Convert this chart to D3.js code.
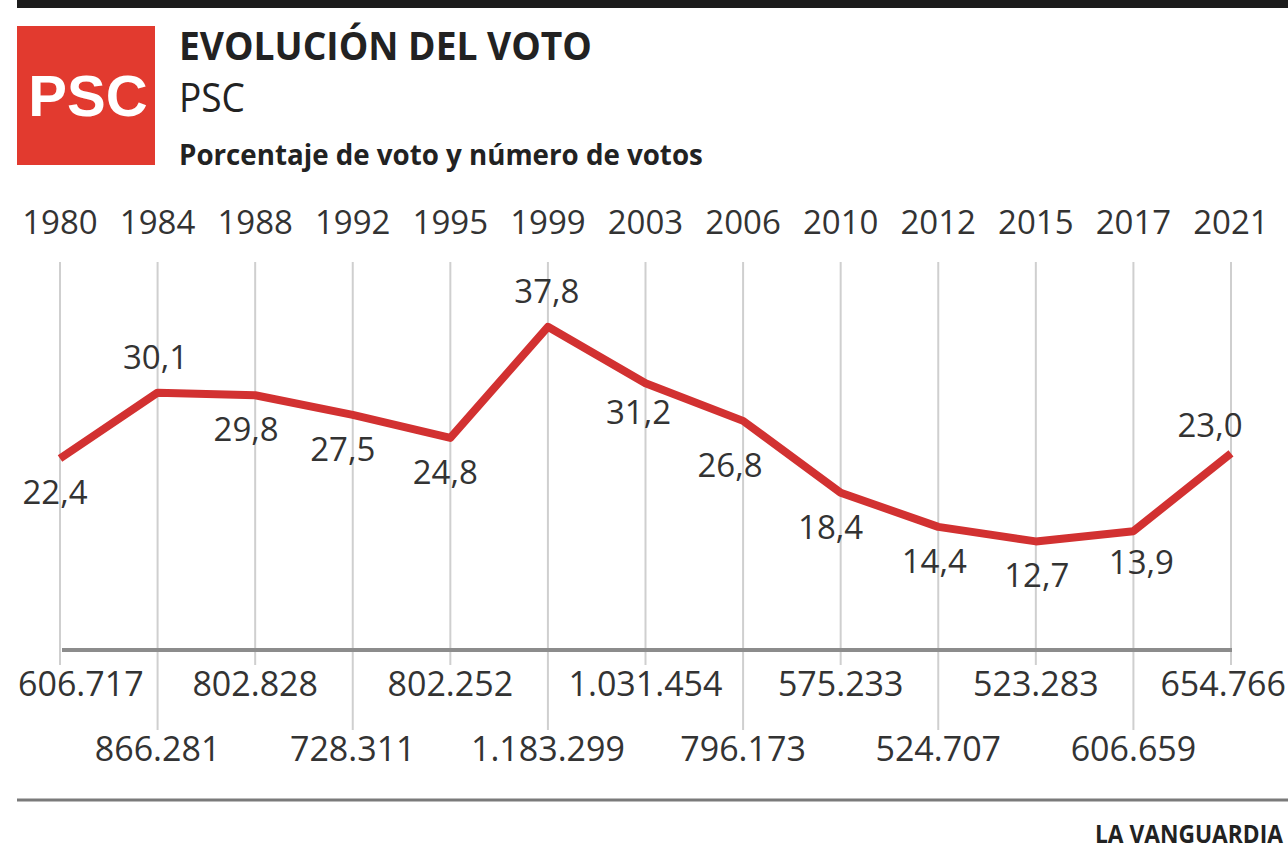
<!DOCTYPE html>
<html>
<head>
<meta charset="utf-8">
<script src="https://cdn.jsdelivr.net/npm/d3@7"></script>
<style>
  html, body { margin: 0; padding: 0; background: #fff; }
  svg { display: block; }
</style>
</head>
<body>
<div id="chart"></div>
<script>
// ---- Data ----
const years = ["1980","1984","1988","1992","1995","1999","2003","2006","2010","2012","2015","2017","2021"];
const votePct = [22.4, 30.1, 29.8, 27.5, 24.8, 37.8, 31.2, 26.8, 18.4, 14.4, 12.7, 13.9, 23.0];
const voteCount = [606717, 866281, 802828, 728311, 802252, 1183299, 1031454, 796173, 575233, 524707, 523283, 606659, 654766];
const labelSide = ["below","above","below","below","below","above","below","below","below","below","below","below","above"];
const labelNudge = [[-5,0],[-2,0],[-9,0],[-10,0],[-5,0],[-1,0],[-7,-5],[-13,10],[-10,0],[-4,0],[1,0],[8,-3],[-21,8]];

const titleText = "EVOLUCIÓN DEL VOTO";
const partyText = "PSC";
const subtitleText = "Porcentaje de voto y número de votos";
const sourceText = "LA VANGUARDIA";

// ---- Setup ----
const W = 1288, H = 852;
const svg = d3.select("#chart").append("svg").attr("width", W).attr("height", H);
svg.append("rect").attr("width", W).attr("height", H).attr("fill", "#fff");

const locale = d3.formatLocale({decimal: ",", thousands: ".", grouping: [3], currency: ["", "€"]});
const fPct = locale.format(".1f");
const fVotes = locale.format(",d");

const numFont = "'Open Sans', sans-serif";
const textCol = "#333";

// Top bar
svg.append("rect").attr("x", 17).attr("y", 0).attr("width", W - 17).attr("height", 8).attr("fill", "#1c1c1c");

// Logo
svg.append("rect").attr("x", 17).attr("y", 26).attr("width", 138).attr("height", 139).attr("fill", "#e23a2f");
svg.append("text").attr("x", 88).attr("y", 116).attr("text-anchor", "middle")
  .attr("font-family", "'Liberation Sans', Arial, sans-serif").attr("font-weight", "bold")
  .attr("font-size", 58).attr("fill", "#fff").text(partyText);

// Condensed text helper: scales horizontally to a target width
function condensed(sel, tx, ty, target) {
  const w = sel.node().getComputedTextLength();
  sel.attr("x", 0).attr("y", 0)
     .attr("transform", `translate(${tx},${ty}) scale(${target / w},1)`);
  return sel;
}

// Titles
condensed(svg.append("text")
  .attr("font-family", numFont).attr("font-weight", "bold").attr("font-size", 40)
  .attr("fill", "#222").text(titleText), 179, 60, 413);
condensed(svg.append("text")
  .attr("font-family", numFont).attr("font-size", 41)
  .attr("fill", "#222").text(partyText), 179, 112, 66);
condensed(svg.append("text")
  .attr("font-family", numFont).attr("font-weight", "bold").attr("font-size", 28)
  .attr("fill", "#222").text(subtitleText), 179, 165, 524);

// Scales
const x = d3.scalePoint().domain(years).range([60, 1231]);
const y = d3.scaleLinear().domain([0, 40]).range([650, 308]);

// Year labels
svg.append("g").selectAll("text").data(years).join("text")
  .attr("x", d => x(d)).attr("y", 234).attr("text-anchor", "middle")
  .attr("font-family", numFont).attr("font-size", 33).attr("fill", textCol)
  .text(d => d);

// Gridlines
svg.append("g").selectAll("line").data(years).join("line")
  .attr("x1", d => x(d)).attr("x2", d => x(d))
  .attr("y1", 262).attr("y2", (d, i) => i % 2 === 0 ? 665 : 730)
  .attr("stroke", "#cfcfcf").attr("stroke-width", 2);

// Axis line
svg.append("line").attr("x1", 62).attr("x2", 1232).attr("y1", y(0)).attr("y2", y(0))
  .attr("stroke", "#8c8c8c").attr("stroke-width", 4);

// Data line
const line = d3.line().x((d, i) => x(years[i])).y(d => y(d));
svg.append("path").datum(votePct).attr("d", line)
  .attr("fill", "none").attr("stroke", "#d23131").attr("stroke-width", 8)
  .attr("stroke-linejoin", "round").attr("stroke-linecap", "butt");

// Value labels
svg.append("g").selectAll("text").data(votePct).join("text")
  .attr("x", (d, i) => x(years[i]) + labelNudge[i][0])
  .attr("y", (d, i) => y(d) + (labelSide[i] === "above" ? -24 : 46) + labelNudge[i][1])
  .attr("text-anchor", "middle")
  .attr("font-family", numFont).attr("font-size", 33).attr("fill", textCol)
  .text(d => fPct(d));

// Vote counts
const vt = svg.append("g").selectAll("text").data(voteCount).join("text")
  .attr("y", (d, i) => i % 2 === 0 ? 696 : 761)
  .attr("text-anchor", "middle")
  .attr("font-family", numFont).attr("font-size", 34).attr("fill", textCol)
  .text(d => fVotes(d));
vt.attr("x", function(d, i) {
  const w = this.getComputedTextLength();
  return Math.min(Math.max(x(years[i]), 18 + w / 2), W - 2 - w / 2);
});

// Bottom rule
svg.append("line").attr("x1", 17).attr("x2", W).attr("y1", 800).attr("y2", 800)
  .attr("stroke", "#7a7a7a").attr("stroke-width", 3);

// Source
condensed(svg.append("text")
  .attr("font-family", numFont).attr("font-weight", "bold").attr("font-size", 25)
  .attr("fill", "#222").text(sourceText), 1095, 843, 188);
</script>
</body>
</html>
